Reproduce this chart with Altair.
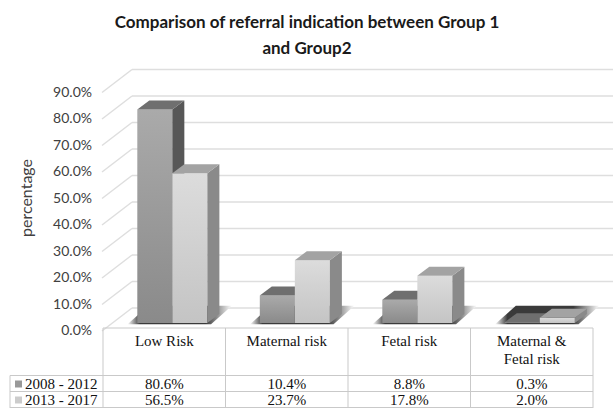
import altair as alt
import pandas as pd

# ---------------- data ----------------
title_lines = ["Comparison of referral indication between Group 1", "and Group2"]
y_title = "percentage"
categories = ["Low Risk", "Maternal risk", "Fetal risk", "Maternal &\nFetal risk"]
series = ["2008 - 2012", "2013 - 2017"]
values_2008_2012 = [80.6, 10.4, 8.8, 0.3]
values_2013_2017 = [56.5, 23.7, 17.8, 2.0]
y_ticks = [0, 10, 20, 30, 40, 50, 60, 70, 80, 90]

# ---------------- style ----------------
W, H = 614, 408
XS = alt.Scale(domain=[0, 4], range=[103, 593], nice=False, zero=False)
YS = alt.Scale(domain=[0, 100], range=[323, 58], nice=False, zero=False)
BAR_LEFT = [0.28, 0.566]
BAR_W = 0.286
DX, DY = 0.098, 3.4
SH_DX, SH_DY = 0.17, 6.5
WALL_OFF = -15
FRONT_OFF = 8
GRID = "#dedede"
TABLE_LINE = "#c9c9c9"
SANS = "Lato"
SERIF = "Liberation Serif"
styles = [
    dict(ft="#aaaaaa", fb="#8a8a8a", side="#575757", top="#6f6f6f", key="#999999"),
    dict(ft="#dcdcdc", fb="#c4c4c4", side="#8a8a8a", top="#a3a3a3", key="#cccccc"),
]
HEADER_Y0, HEADER_LH = 341, 18
ROW_Y = [384, 400]
ROW_LINES = [375.5, 391.5, 407.5]

all_values = [values_2008_2012, values_2013_2017]

# ---------------- derived tables ----------------
front_rows, side_rows, top_rows, shadow_rows = [], [], [], []
for s, vs in enumerate(all_values):
    for i, v in enumerate(vs):
        xl = i + BAR_LEFT[s]
        xr = xl + BAR_W
        bid = f"{s}-{i}"
        front_rows.append(dict(s=s, bar=bid, xl=xl, xr=xr, v=v, z=0.0))
        side_rows += [
            dict(s=s, bar=bid, x=xr, lo=0.0, hi=v),
            dict(s=s, bar=bid, x=xr + DX, lo=DY, hi=v + DY),
        ]
        top_rows += [
            dict(s=s, bar=bid, x=xl, lo=v, hi=v),
            dict(s=s, bar=bid, x=xl + DX, lo=v, hi=v + DY),
            dict(s=s, bar=bid, x=xr, lo=v, hi=v + DY),
            dict(s=s, bar=bid, x=xr + DX, lo=v + DY, hi=v + DY),
        ]
for i in range(len(categories)):
    xa = i + BAR_LEFT[0] - 0.08
    xb = i + BAR_LEFT[1] + BAR_W + 0.03
    g = f"g{i}"
    shadow_rows += [
        dict(g=g, x=xa, lo=-0.5, hi=-0.5),
        dict(g=g, x=xa + SH_DX, lo=-0.5, hi=SH_DY),
        dict(g=g, x=xb, lo=-0.5, hi=SH_DY),
        dict(g=g, x=xb + SH_DX, lo=SH_DY, hi=SH_DY),
    ]

front_df = pd.DataFrame(front_rows)
side_df = pd.DataFrame(side_rows)
top_df = pd.DataFrame(top_rows)
shadow_df = pd.DataFrame(shadow_rows)
tick_df = pd.DataFrame({"tick": y_ticks})

header_rows = []
for i, c in enumerate(categories):
    for k, line in enumerate(c.split("\n")):
        header_rows.append(dict(xc=i + 0.5, line=line, yy=HEADER_Y0 + HEADER_LH * k))
header_df = pd.DataFrame(header_rows)

cell_rows = []
for s, vs in enumerate(all_values):
    for i, v in enumerate(vs):
        cell_rows.append(dict(xc=i + 0.5, txt=f"{v:.1f}%", yy=ROW_Y[s]))
cell_df = pd.DataFrame(cell_rows)

legend_df = pd.DataFrame({"name": series, "yy": ROW_Y, "col": [st["key"] for st in styles]})
title_df = pd.DataFrame({"t": title_lines, "yy": [23, 49]})
vline_df = pd.DataFrame({"b": list(range(len(categories) + 1))})
hline_df = pd.DataFrame({"yy": ROW_LINES})

# ---------------- layers ----------------
layers = []

# back wall gridlines
layers.append(
    alt.Chart(tick_df).mark_rule(color=GRID, strokeWidth=1.5, yOffset=WALL_OFF)
    .encode(y=alt.Y("tick:Q", scale=YS, axis=None), x=alt.value(132), x2=alt.value(613))
)
# side diagonals
layers.append(
    alt.Chart(tick_df).mark_rule(color=GRID, strokeWidth=1.5, yOffset=FRONT_OFF, y2Offset=WALL_OFF)
    .encode(y=alt.Y("tick:Q", scale=YS, axis=None), y2="tick:Q", x=alt.value(102), x2=alt.value(132))
)
# floor shadows
shadow_grad = alt.Gradient(
    gradient="linear", x1=0, x2=1, y1=0, y2=0,
    stops=[
        alt.GradientStop(color="#ffffff", offset=0),
        alt.GradientStop(color="#3a3a3a", offset=0.12),
        alt.GradientStop(color="#3a3a3a", offset=0.75),
        alt.GradientStop(color="#ffffff", offset=1),
    ],
)
layers.append(
    alt.Chart(shadow_df).mark_area(color=shadow_grad, interpolate="linear")
    .encode(x=alt.X("x:Q", scale=XS, axis=None), y=alt.Y("lo:Q", scale=YS, axis=None), y2="hi:Q", detail="g:N")
)

for s, st in enumerate(styles):
    grad = alt.Gradient(
        gradient="linear", x1=0, x2=0, y1=0, y2=1,
        stops=[alt.GradientStop(color=st["ft"], offset=0), alt.GradientStop(color=st["fb"], offset=1)],
    )
    layers.append(
        alt.Chart(front_df).transform_filter(alt.datum.s == s)
        .mark_rect(color=grad)
        .encode(x=alt.X("xl:Q", scale=XS, axis=None), x2="xr:Q",
                y=alt.Y("v:Q", scale=YS, axis=None), y2="z:Q")
    )
    layers.append(
        alt.Chart(side_df).transform_filter(alt.datum.s == s)
        .mark_area(color=st["side"], interpolate="linear")
        .encode(x=alt.X("x:Q", scale=XS, axis=None), y=alt.Y("lo:Q", scale=YS, axis=None), y2="hi:Q", detail="bar:N")
    )
    layers.append(
        alt.Chart(top_df).transform_filter(alt.datum.s == s)
        .mark_area(color=st["top"], interpolate="linear")
        .encode(x=alt.X("x:Q", scale=XS, axis=None), y=alt.Y("lo:Q", scale=YS, axis=None), y2="hi:Q", detail="bar:N")
    )

# y labels
layers.append(
    alt.Chart(tick_df).transform_calculate(lab="format(datum.tick, '.1f') + '%'")
    .mark_text(font=SANS, fontSize=14, color="#404040", align="right", baseline="middle", yOffset=FRONT_OFF)
    .encode(y=alt.Y("tick:Q", scale=YS, axis=None), x=alt.value(92), text="lab:N")
)
# y title
layers.append(
    alt.Chart(pd.DataFrame({"t": [y_title]})).mark_text(font=SANS, fontSize=16, color="#404040", angle=270,
                                                       align="center", baseline="middle")
    .encode(x=alt.value(27), y=alt.value(198), text="t:N")
)
# chart title
layers.append(
    alt.Chart(title_df).mark_text(font=SANS, fontSize=17, fontWeight="bold", color="#1a1a1a",
                                  align="center", baseline="middle")
    .encode(x=alt.value(307), y=alt.Y("yy:Q", scale=None), text="t:N")
)

# table frame
layers.append(
    alt.Chart(vline_df).mark_rule(color=TABLE_LINE, strokeWidth=1)
    .encode(x=alt.X("b:Q", scale=XS, axis=None), y=alt.value(328), y2=alt.value(408))
)
layers.append(
    alt.Chart(pd.DataFrame({"a": [0]})).mark_rule(color=TABLE_LINE, strokeWidth=1)
    .encode(x=alt.value(103), x2=alt.value(593), y=alt.value(328))
)
layers.append(
    alt.Chart(hline_df).mark_rule(color=TABLE_LINE, strokeWidth=1)
    .encode(x=alt.value(10), x2=alt.value(593), y=alt.Y("yy:Q", scale=None))
)
layers.append(
    alt.Chart(pd.DataFrame({"a": [0]})).mark_rule(color=TABLE_LINE, strokeWidth=1)
    .encode(x=alt.value(10), y=alt.value(ROW_LINES[0]), y2=alt.value(408))
)
# header text
layers.append(
    alt.Chart(header_df).mark_text(font=SERIF, fontSize=15, color="#111111", align="center", baseline="middle")
    .encode(x=alt.X("xc:Q", scale=XS, axis=None), y=alt.Y("yy:Q", scale=None), text="line:N")
)
# cell values
layers.append(
    alt.Chart(cell_df).mark_text(font=SERIF, fontSize=15, color="#111111", align="center", baseline="middle")
    .encode(x=alt.X("xc:Q", scale=XS, axis=None), y=alt.Y("yy:Q", scale=None), text="txt:N")
)
# legend keys + row labels
layers.append(
    alt.Chart(legend_df).mark_square(size=49, filled=True, opacity=1)
    .encode(x=alt.value(18.5), y=alt.Y("yy:Q", scale=None), color=alt.Color("col:N", scale=None))
)
layers.append(
    alt.Chart(legend_df).mark_text(font=SERIF, fontSize=15, color="#111111", align="left", baseline="middle")
    .encode(x=alt.value(25), y=alt.Y("yy:Q", scale=None), text="name:N")
)

chart = (
    alt.layer(*layers)
    .resolve_scale(y="independent")
    .properties(width=W, height=H, autosize=alt.AutoSizeParams(type="none"), padding=0, background="white")
    .configure_view(stroke=None)
)

chart.save("out.html", embed_options={"renderer": "svg", "actions": False})
